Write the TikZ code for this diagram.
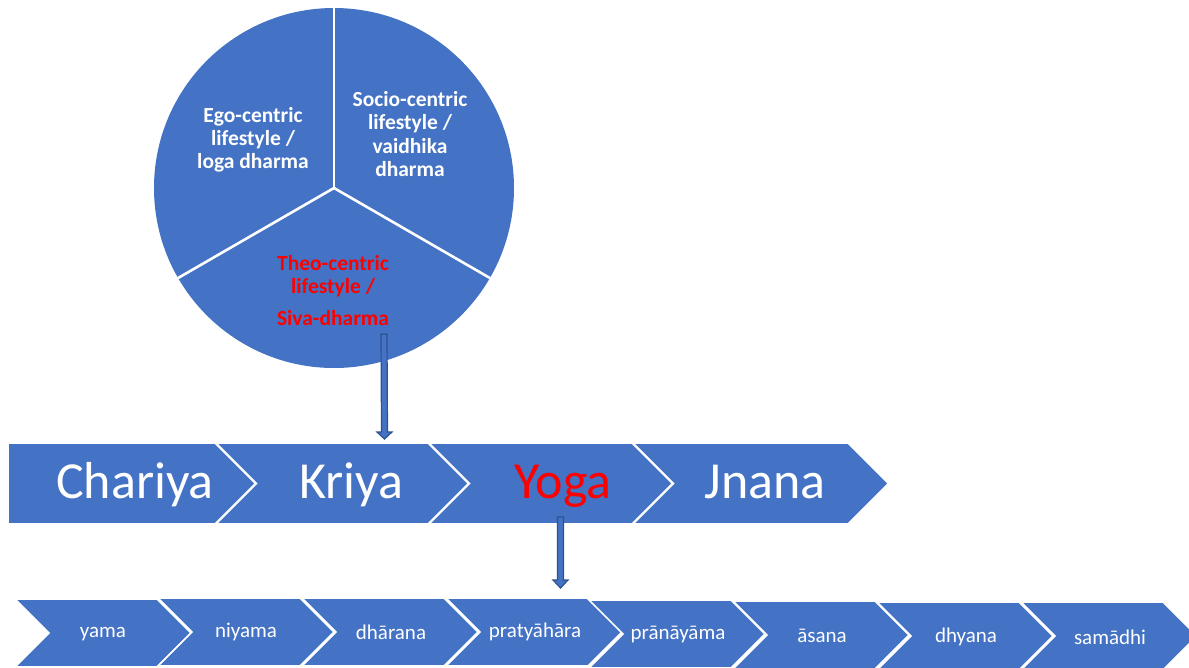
\documentclass[tikz,border=0pt]{standalone}
\usepackage{fontspec}
\setmainfont{Carlito}
\usetikzlibrary{calc}
\definecolor{ofblue}{HTML}{4472C4}
\definecolor{ofdark}{HTML}{2F528F}
\definecolor{ofred}{HTML}{FF0000}
\newcommand\botchev[2]{\draw[chevbox] (#1,#2) -- ++(142,0) -- ++(34,34) -- ++(-34,34) -- ++(-142,0) -- ++(34,-34) -- cycle;}
\begin{document}
\begin{tikzpicture}[x=1pt,y=-1pt,
  chevbox/.style={fill=ofblue,draw=white,line width=1.6pt,line join=miter},
  pietext/.style={text=white,font=\fontsize{21.5}{23.2}\selectfont\bfseries,align=center,inner sep=0pt},
  bigtext/.style={text=white,font=\fontsize{52}{60}\selectfont,inner sep=0pt,anchor=base},
  smalltext/.style={text=white,font=\fontsize{21}{24}\selectfont,inner sep=0pt},
  blockarrow/.style={fill=ofblue,draw=ofdark,line width=1.2pt,line join=miter}]
\useasboundingbox (0,0) rectangle (1189,667);
\clip (0,0) rectangle (1189,667);

% pie
\node[circle,fill=ofblue,minimum size=360pt,inner sep=0pt] (pie) at (334,188) {};
\draw[white,line width=2.6pt] (pie.center) -- (pie.north);
\draw[white,line width=2.6pt] (pie.center) -- (pie.210);
\draw[white,line width=2.6pt] (pie.center) -- (pie.330);
\node[pietext] (ego) at (253,140) {Ego-centric\\lifestyle /\\loga dharma};
\node[pietext] (socio) at (410,134) {Socio-centric\\lifestyle /\\vaidhika\\dharma};
\node[pietext,text=ofred] (theo) at (333,290.5) {Theo-centric\\lifestyle /\\[8pt]Siva-dharma};

% top row
\draw[chevbox] (8,443) -- (215,443) -- (255.5,483.5) -- (215,524) -- (8,524) -- cycle;
\draw[chevbox] (216,443) -- (428,443) -- (468.5,483.5) -- (428,524) -- (216,524) -- (256.5,483.5) -- cycle;
\draw[chevbox] (429,443) -- (632,443) -- (672.5,483.5) -- (632,524) -- (429,524) -- (469.5,483.5) -- cycle;
\draw[chevbox] (633,443) -- (848,443) -- (888.5,483.5) -- (848,524) -- (633,524) -- (673.5,483.5) -- cycle;
\node[bigtext] (chariya) at (135,498) {Chariya};
\node[bigtext] (kriya) at (351,498) {Kriya};
\node[bigtext,text=ofred] (yoga) at (563,498) {Yoga};
\node[bigtext] (jnana) at (765,498) {Jnana};

% bottom row
\botchev{15}{599}
\botchev{158}{598}
\botchev{302}{598}
\botchev{446}{598}
\botchev{589}{600}
\botchev{733}{601}
\botchev{877}{602}
\botchev{1021}{602}
\node[smalltext] (yama) at (103,634) {yama};
\node[smalltext] (niyama) at (246,632) {niyama};
\node[smalltext] (dharana) at (391,632) {dhārana};
\node[smalltext] (pratyahara) at (535,632) {pratyāhāra};
\node[smalltext] (pranayama) at (678,635) {prānāyāma};
\node[smalltext] (asana) at (822,636) {āsana};
\node[smalltext] (dhyana) at (966,637) {dhyana};
\node[smalltext] (samadhi) at (1110,637) {samādhi};

% block arrows
\coordinate (a1s) at (384,334);
\coordinate (a1e) at (384.5,439);
\draw[blockarrow] ($(a1s)+(-3,0)$) -- ($(a1s)+(3,0)$) -- ($(a1e)+(3,-7)$) -- ($(a1e)+(7.5,-7)$) -- (a1e) -- ($(a1e)+(-7.5,-7)$) -- ($(a1e)+(-3,-7)$) -- cycle;
\coordinate (a2s) at (560.5,517);
\coordinate (a2e) at (560.5,588);
\draw[blockarrow] ($(a2s)+(-3,0)$) -- ($(a2s)+(3,0)$) -- ($(a2e)+(3,-8)$) -- ($(a2e)+(7.5,-8)$) -- (a2e) -- ($(a2e)+(-7.5,-8)$) -- ($(a2e)+(-3,-8)$) -- cycle;
\end{tikzpicture}
\end{document}
